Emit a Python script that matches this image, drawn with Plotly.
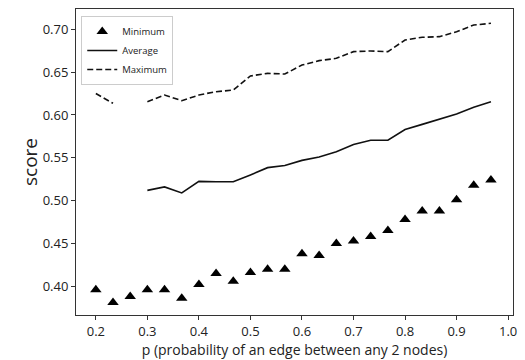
import plotly.graph_objects as go

p_values = [0.2, 0.2333, 0.2667, 0.3, 0.3333, 0.3667, 0.4, 0.4333, 0.4667, 0.5, 0.5333, 0.5667,
            0.6, 0.6333, 0.6667, 0.7, 0.7333, 0.7667, 0.8, 0.8333, 0.8667, 0.9, 0.9333, 0.9667]
minimum = [0.396, 0.381, 0.388, 0.396, 0.396, 0.386, 0.402, 0.415, 0.406, 0.416, 0.420, 0.420,
           0.438, 0.436, 0.450, 0.453, 0.458, 0.465, 0.478, 0.488, 0.488, 0.501, 0.518, 0.524]
average = [None, None, None, 0.512, 0.516, 0.509, 0.5225, 0.522, 0.522, 0.530, 0.5385, 0.541,
           0.547, 0.551, 0.557, 0.5655, 0.5705, 0.5705, 0.583, 0.589, 0.595, 0.601, 0.609, 0.6155]
maximum = [0.625, 0.6136, None, 0.6155, 0.6233, 0.6167, 0.6233, 0.6272, 0.6291, 0.6455, 0.6486, 0.6478,
           0.6583, 0.6634, 0.6661, 0.6739, 0.6747, 0.6739, 0.6875, 0.6907, 0.6914, 0.6972, 0.705, 0.707]
x_ticks = [0.2, 0.3, 0.4, 0.5, 0.6, 0.7, 0.8, 0.9, 1.0]
y_ticks = [0.40, 0.45, 0.50, 0.55, 0.60, 0.65, 0.70]

FONT = "Open Sans"

fig = go.Figure()
fig.add_trace(go.Scatter(x=p_values, y=minimum, mode="markers", name="Minimum",
                         marker=dict(symbol="triangle-up", size=10, color="black")))
fig.add_trace(go.Scatter(x=p_values, y=average, mode="lines", name="Average",
                         line=dict(color="#111", width=1.6)))
fig.add_trace(go.Scatter(x=p_values, y=maximum, mode="lines", name="Maximum",
                         line=dict(color="#111", width=1.6, dash="6px,3px")))

axis_common = dict(showgrid=False, zeroline=False, showline=True, linecolor="#333", linewidth=1,
                   mirror=True, ticks="outside", ticklen=4, tickcolor="#333",
                   tickfont=dict(family=FONT, size=13, color="#222"))

fig.update_layout(
    width=525, height=360,
    margin=dict(l=76, r=8, t=9, b=45),
    paper_bgcolor="white", plot_bgcolor="white",
    font=dict(family=FONT, color="#222"),
    xaxis=dict(range=[0.1615, 1.0095], tickvals=x_ticks, tickformat=".1f",
               title=dict(text="p (probability of an edge between any 2 nodes)",
                          font=dict(size=14, color="#222"), standoff=2),
               **axis_common),
    yaxis=dict(range=[0.3665, 0.7237], tickvals=y_ticks, tickformat=".2f",
               title=dict(text="score", font=dict(size=19, color="#222"), standoff=0),
               **axis_common),
    legend=dict(x=0.012, y=0.977, xanchor="left", yanchor="top",
                bgcolor="white", bordercolor="#ccc", borderwidth=1,
                font=dict(family=FONT, size=9.5, color="#222"),
                itemwidth=30, tracegroupgap=0),
    showlegend=True,
)

fig.write_html("out.html", config={"displayModeBar": False},
               post_script="document.body.style.margin='0';document.body.style.overflow='hidden';")
